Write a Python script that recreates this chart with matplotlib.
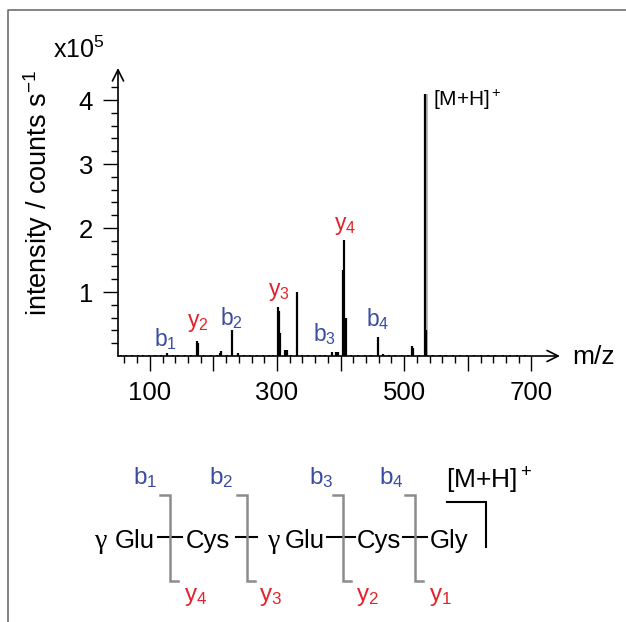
import matplotlib
matplotlib.use('Agg')
import matplotlib.pyplot as plt
from matplotlib.ticker import FixedLocator, FuncFormatter

plt.rcParams['font.family'] = ['Liberation Sans', 'DejaVu Sans']
plt.rcParams['mathtext.fontset'] = 'custom'
plt.rcParams['mathtext.rm'] = 'Liberation Sans'
plt.rcParams['mathtext.it'] = 'Liberation Sans:italic'
plt.rcParams['mathtext.default'] = 'rm'

BLUE = '#3a4da0'
RED = '#e2232b'
GRAY = '#8c8c8c'

# spectrum sticks: m/z and intensity (x1e5 counts/s)
peak_mz = [55, 63, 72, 81, 90, 99, 108, 117, 127, 136, 145, 155, 164, 174, 176,
           186, 196, 205, 210, 212, 221, 229, 239, 248, 258, 268, 278, 288, 294,
           301, 302.5, 304, 313, 315, 322, 331, 340, 349, 358, 367, 376, 386,
           392, 396, 404, 406, 408, 417, 427, 438, 448, 459, 466, 476, 486, 496,
           506, 512, 514, 524, 533, 535, 545, 556, 566, 577, 588, 598, 609, 620,
           632, 643, 655, 666, 678, 690]
peak_int = [0.012, 0.015, 0.01, 0.014, 0.012, 0.016, 0.013, 0.015, 0.04, 0.014,
            0.012, 0.018, 0.015, 0.23, 0.2, 0.016, 0.014, 0.02, 0.05, 0.08, 0.018,
            0.40, 0.04, 0.016, 0.014, 0.017, 0.015, 0.02, 0.018, 0.77, 0.70, 0.36,
            0.10, 0.09, 0.02, 1.0, 0.018, 0.016, 0.02, 0.015, 0.02, 0.07, 0.06,
            0.06, 1.34, 1.81, 0.6, 0.02, 0.018, 0.016, 0.015, 0.30, 0.03, 0.016,
            0.014, 0.015, 0.016, 0.15, 0.12, 0.015, 4.1, 0.4, 0.014, 0.012, 0.011,
            0.013, 0.01, 0.012, 0.011, 0.013, 0.01, 0.011, 0.012, 0.01, 0.011, 0.01]
# faint grey shoulders next to the big peaks
shoulder_mz = [535.5, 408.5]
shoulder_int = [4.1, 0.38]

# fragment labels in the spectrum
frag_names = ['b$_1$', 'y$_2$', 'b$_2$', 'y$_3$', 'b$_3$', 'y$_4$', 'b$_4$']
frag_mz = [125, 176, 229, 303, 374, 407, 459]
frag_label_y = [0.27, 0.52, 0.60, 1.01, 0.34, 2.04, 0.57]
frag_colors = [BLUE, RED, BLUE, RED, BLUE, RED, BLUE]

xmajor = [100, 200, 300, 400, 500, 600, 700]
xlabeled = [100, 300, 500, 700]
ymajor = [1, 2, 3, 4]

# peptide diagram
residues = ['Glu', 'Cys', 'Glu', 'Cys', 'Gly']
gamma = [True, False, True, False, False]
b_names = ['b$_1$', 'b$_2$', 'b$_3$', 'b$_4$']
y_names = ['y$_4$', 'y$_3$', 'y$_2$', 'y$_1$']

W, H = 626, 622
fig = plt.figure(figsize=(W / 100, H / 100), dpi=100)

# spectrum axes: m/z 50..745 on px 118..560, intensity 0..4.5 on px 356..68
ax = fig.add_axes([118 / W, (H - 356) / H, 442 / W, 288 / H])
ax.set_xlim(50, 745)
ax.set_ylim(0, 4.5)
for s in ax.spines.values():
    s.set_visible(False)
ax.patch.set_visible(False)

ax.vlines(shoulder_mz, 0, shoulder_int, color='#b0b0b0', lw=1.3, zorder=1)
ax.vlines(peak_mz, 0, peak_int, color='k', lw=1.6, zorder=2)

for name, mz, yl, c in zip(frag_names, frag_mz, frag_label_y, frag_colors):
    ax.text(mz, yl, name, color=c, fontsize=16.5, ha='center', va='center')
ax.text(545, 4.0, '[M+H]$^+$', fontsize=15, ha='left', va='center')

ax.xaxis.set_major_locator(FixedLocator(xmajor))
ax.xaxis.set_minor_locator(FixedLocator([v for v in range(60, 700, 20) if v % 100]))
ax.xaxis.set_major_formatter(FuncFormatter(lambda v, p: '%d' % v if v in xlabeled else ''))
ax.yaxis.set_major_locator(FixedLocator(ymajor))
ax.yaxis.set_minor_locator(FixedLocator([i * 0.2 for i in range(1, 22) if i % 5]))
ax.yaxis.set_major_formatter(FuncFormatter(lambda v, p: '%d' % v))
ax.tick_params(which='major', direction='out', length=11, width=1.0, labelsize=18.5, pad=7)
ax.tick_params(axis='y', which='major', pad=7)
ax.tick_params(which='minor', direction='out', length=5, width=1.0)

arrow = dict(arrowstyle='->', lw=1.2, color='k', mutation_scale=20, shrinkA=0, shrinkB=0)
ax.annotate('', xy=(1, 0), xytext=(0, 0), xycoords='axes fraction', arrowprops=arrow)
ax.annotate('', xy=(0, 1), xytext=(0, 0), xycoords='axes fraction', arrowprops=arrow)

# overlay in pixel coords for frame, labels and the peptide scheme
ov = fig.add_axes([0, 0, 1, 1])
ov.set_xlim(0, W)
ov.set_ylim(H, 0)
ov.axis('off')
ov.patch.set_visible(False)

ov.plot([8, 8, W], [H, 10, 10], color='#6e6e6e', lw=1.2)

ov.text(38, 193, 'intensity / counts s$^{-1}$', rotation=90, fontsize=19.5,
        ha='center', va='center')
ov.text(53, 50, 'x10$^5$', fontsize=18, ha='left', va='center')
ov.text(572, 357, 'm/z', fontsize=19, ha='left', va='center')

res_x = [115, 186, 285, 357, 430]
gamma_x = [95, 0, 268, 0, 0]
for name, x, g, gx in zip(residues, res_x, gamma, gamma_x):
    ov.text(x, 548, name, fontsize=18.5, ha='left', va='baseline')
    if g:
        ov.text(gx, 548, 'γ', fontsize=20, family=['Liberation Serif'], ha='left', va='baseline')

dash_spans = [(158, 182), (236, 257), (327, 355), (403, 427)]
bond_x = [170, 247, 343, 415]
b_x = [145, 221, 321, 391]
y_x = [196, 271, 367, 440]
for (d0, d1), bx, bn, yn, blx, ylx in zip(dash_spans, bond_x, b_names, y_names, b_x, y_x):
    ov.plot([d0, d1], [537, 537], color='k', lw=1.5)
    ov.plot([bx - 10, bx, bx, bx + 8], [495, 495, 581, 581], color=GRAY, lw=1.8,
            solid_joinstyle='miter')
    ov.text(blx, 478, bn, color=BLUE, fontsize=17.5, ha='center', va='center')
    ov.text(ylx, 597, yn, color=RED, fontsize=17.5, ha='center', va='center')

ov.plot([447, 486, 486], [502, 502, 547], color='k', lw=1.5, solid_joinstyle='miter')
ov.text(446, 481, '[M+H]$^+$', fontsize=19, ha='left', va='center')

fig.savefig('out.png', dpi=100)
